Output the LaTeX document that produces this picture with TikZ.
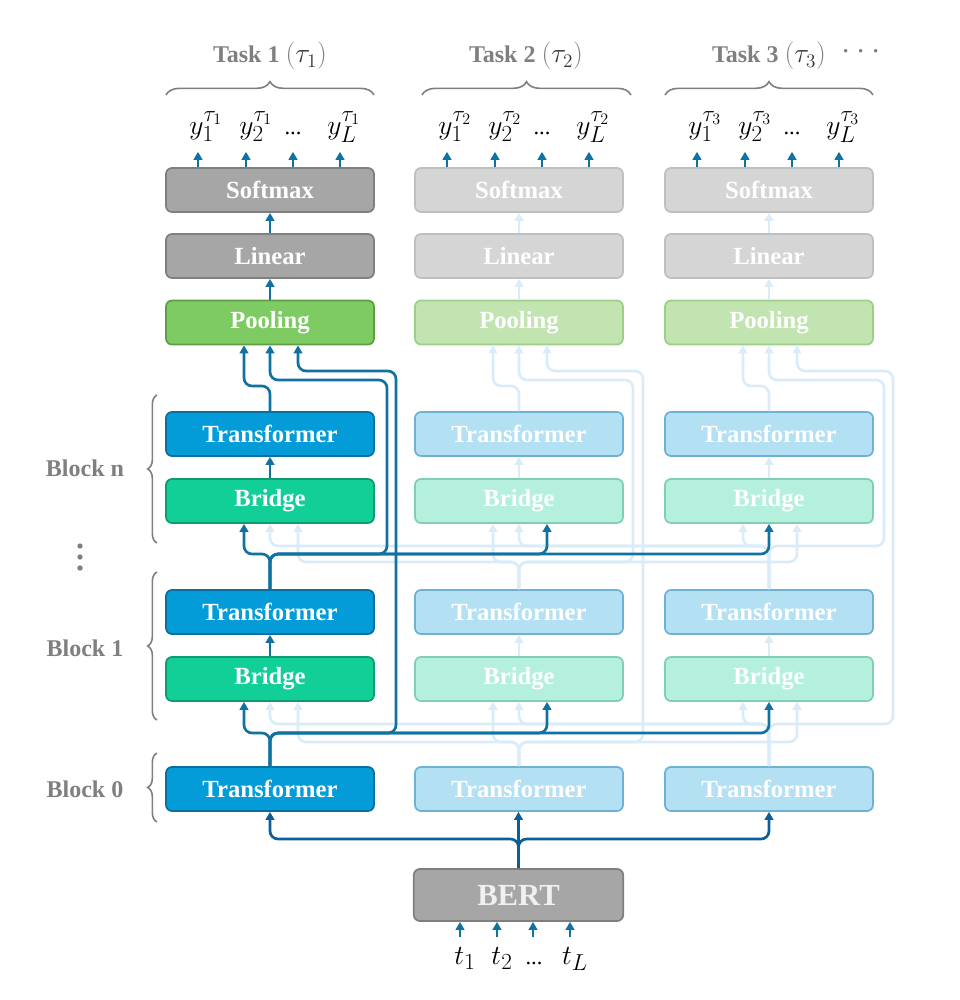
\documentclass[tikz,border=0pt]{standalone}
\usepackage{fontspec}
\setmainfont{Liberation Serif}
\DeclareMathSizes{22}{22}{16}{12}
\DeclareMathSizes{20}{20}{15}{11}
\usetikzlibrary{arrows.meta,calc,decorations.pathreplacing}
\definecolor{gboxf}{HTML}{A6A6A6}\definecolor{gboxd}{HTML}{7F7F7F}
\definecolor{gfaf}{HTML}{D5D5D5}\definecolor{gfad}{HTML}{BFBFBF}
\definecolor{plf}{HTML}{7ECB63}\definecolor{pld}{HTML}{5E9E45}
\definecolor{plff}{HTML}{C1E4B1}\definecolor{plfd}{HTML}{9CCF87}
\definecolor{trf}{HTML}{039CD8}\definecolor{trd}{HTML}{0B6F9B}
\definecolor{trff}{HTML}{B3E0F3}\definecolor{trfd}{HTML}{6DB2D5}
\definecolor{brf}{HTML}{12CF98}\definecolor{brd}{HTML}{0F9A71}
\definecolor{brff}{HTML}{B5F0DF}\definecolor{brfd}{HTML}{80CFB4}
\definecolor{lnd}{HTML}{0F72A1}\definecolor{lnn}{HTML}{0C5E98}\definecolor{lnf}{HTML}{D9ECF8}
\definecolor{txg}{HTML}{7F7F7F}
\newcommand\lanepath[4]{\draw[#1] (#2.north) -- (#2.north |- #3) -- (#4 |- #3) -- (#4);}
\newcommand\poolpath[6]{\draw[#1] (#2.north) -- (#2.north |- #3) -- (#4 |- #3) -- (#4 |- #5) -- (#6 |- #5) -- (#6);}
\begin{document}
\begin{tikzpicture}[x=0.75pt,y=-0.75pt,
 blk/.style={rounded corners=4.5pt, line width=1.3pt, minimum width=156pt, minimum height=33pt, inner sep=0pt, text=white, font=\fontsize{18.5}{20}\selectfont\bfseries},
 gryd/.style={blk, fill=gboxf, draw=gboxd},
 gryf/.style={blk, fill=gfaf, draw=gfad},
 plnd/.style={blk, fill=plf, draw=pld},
 plnf/.style={blk, fill=plff, draw=plfd},
 trnd/.style={blk, fill=trf, draw=trd},
 trnf/.style={blk, fill=trff, draw=trfd},
 brgd/.style={blk, fill=brf, draw=brd},
 brgf/.style={blk, fill=brff, draw=brfd},
 ln/.style={line width=2pt, rounded corners=6pt, -{Triangle[width=6.5pt,length=6pt]}},
 dk/.style={ln, draw=lnd},
 nv/.style={ln, draw=lnn},
 ft/.style={ln, draw=lnf},
 lbl/.style={text=txg, font=\fontsize{18}{20}\selectfont\bfseries},
 mth/.style={font=\fontsize{22}{24}\selectfont, anchor=base, inner sep=0.5pt},
 brc/.style={decorate, decoration={brace, amplitude=#1}, draw=txg, line width=1.2pt},
]
\useasboundingbox (0,0) rectangle (960,1000);

% ---------- nodes ----------
\node[gryd] (sma) at (270,190) {Softmax};
\node[gryd] (lia) at (270,256) {Linear};
\node[plnd] (pla) at (270,322.5) {Pooling};
\node[trnd] (tna) at (270,434) {Transformer};
\node[brgd] (bna) at (270,501) {Bridge};
\node[trnd] (t1a) at (270,612) {Transformer};
\node[brgd] (b1a) at (270,679) {Bridge};
\node[trnd] (t0a) at (270,789) {Transformer};

\node[gryf] (smb) at (519,190) {Softmax};
\node[gryf] (lib) at (519,256) {Linear};
\node[plnf] (plb) at (519,322.5) {Pooling};
\node[trnf] (tnb) at (519,434) {Transformer};
\node[brgf] (bnb) at (519,501) {Bridge};
\node[trnf] (t1b) at (519,612) {Transformer};
\node[brgf] (b1b) at (519,679) {Bridge};
\node[trnf] (t0b) at (519,789) {Transformer};

\node[gryf] (smc) at (769,190) {Softmax};
\node[gryf] (lic) at (769,256) {Linear};
\node[plnf] (plc) at (769,322.5) {Pooling};
\node[trnf] (tnc) at (769,434) {Transformer};
\node[brgf] (bnc) at (769,501) {Bridge};
\node[trnf] (t1c) at (769,612) {Transformer};
\node[brgf] (b1c) at (769,679) {Bridge};
\node[trnf] (t0c) at (769,789) {Transformer};

\node[gryd, minimum width=157pt, minimum height=39pt, text=white!94!black, font=\fontsize{23}{26}\selectfont\bfseries] (bert) at (518.5,895) {BERT};

% ---------- coordinates ----------
\foreach \n in {bna,bnb,bnc,b1a,b1b,b1c,pla,plb,plc}{
  \coordinate (\n-L) at ([xshift=-19.5pt]\n.south);
  \coordinate (\n-M) at (\n.south);
  \coordinate (\n-R) at ([xshift=21pt]\n.south);
}
\coordinate (lA1) at (0,724); \coordinate (lB1) at (0,733); \coordinate (lC1) at (0,742);
\coordinate (lAn) at (0,546); \coordinate (lBn) at (0,554); \coordinate (lCn) at (0,562);
\coordinate (pL) at (0,386); \coordinate (pM) at (0,380); \coordinate (pR) at (0,371);
\coordinate (bl) at (0,839);
\coordinate (vMa) at (387,0); \coordinate (vRa) at (396,0);
\coordinate (vMb) at (633,0); \coordinate (vRb) at (643,0);
\coordinate (vMc) at (884,0); \coordinate (vRc) at (893,0);

% ---------- faint connectors ----------
% block 1, task 2
\lanepath{ft}{t0b}{lC1}{b1b-L}
\lanepath{ft}{t0b}{lC1}{b1a-R}
\lanepath{ft}{t0b}{lC1}{b1c-R}
\poolpath{ft}{t0b}{lC1}{vRb}{pR}{plb-R}
% block 1, task 3
\lanepath{ft}{t0c}{lA1}{b1c-L}
\lanepath{ft}{t0c}{lA1}{b1a-M}
\lanepath{ft}{t0c}{lA1}{b1b-M}
\poolpath{ft}{t0c}{lA1}{vRc}{pR}{plc-R}
% block n, task 2
\lanepath{ft}{t1b}{lCn}{bnb-L}
\lanepath{ft}{t1b}{lCn}{bna-R}
\lanepath{ft}{t1b}{lCn}{bnc-R}
\poolpath{ft}{t1b}{lCn}{vMb}{pM}{plb-M}
% block n, task 3
\lanepath{ft}{t1c}{lAn}{bnc-L}
\lanepath{ft}{t1c}{lAn}{bna-M}
\lanepath{ft}{t1c}{lAn}{bnb-M}
\poolpath{ft}{t1c}{lAn}{vMc}{pM}{plc-M}
% pooling left inputs
\lanepath{ft}{tnb}{pL}{plb-L}
\lanepath{ft}{tnc}{pL}{plc-L}
% straight
\foreach \s in {b,c}{
  \draw[ft] (b1\s.north) -- (t1\s.south);
  \draw[ft] (bn\s.north) -- (tn\s.south);
  \draw[ft] (pl\s.north) -- (li\s.south);
  \draw[ft] (li\s.north) -- (sm\s.south);
}

% ---------- dark connectors ----------
\lanepath{dk}{t0a}{lB1}{b1a-L}
\poolpath{dk}{t0a}{lB1}{vRa}{pR}{pla-R}
\lanepath{dk}{t0a}{lB1}{b1b-R}
\lanepath{dk}{t0a}{lB1}{b1c-M}
\lanepath{dk}{t1a}{lBn}{bna-L}
\poolpath{dk}{t1a}{lBn}{vMa}{pM}{pla-M}
\lanepath{dk}{t1a}{lBn}{bnb-R}
\lanepath{dk}{t1a}{lBn}{bnc-M}
\lanepath{dk}{tna}{pL}{pla-L}
\draw[dk] (b1a.north) -- (t1a.south);
\draw[dk] (bna.north) -- (tna.south);
\draw[dk] (pla.north) -- (lia.south);
\draw[dk] (lia.north) -- (sma.south);

% BERT
\draw[nv] (bert.north) -- (bert.north |- bl) -- (t0a.south |- bl) -- (t0a.south);
\draw[nv] (bert.north) -- (bert.north |- bl) -- (t0c.south |- bl) -- (t0c.south);
\draw[nv] (bert.north) -- (bert.north |- t0b.south);

% inputs
\foreach \x/\i in {460/1,497/2,533/3,570/4}{
  \coordinate (in\i) at (\x,937);
  \draw[dk] (in\i) -- (in\i |- bert.south);
}
\node[mth] (tk1) at (465,964) {$t_1$};
\node[mth] (tk2) at (502,964) {$t_2$};
\node[mth, font=\fontsize{17}{20}\selectfont] (tk3) at (534,964) {...};
\node[mth] (tk4) at (575,964) {$t_L$};

% outputs
\foreach \s/\cx/\k in {a/270/1,b/519/2,c/769/3}{
  \foreach \dx/\i in {-72/1,-24/2,23/3,70/4}{
    \coordinate (o\s\i) at ([xshift=\dx*0.75pt, yshift=11.5pt]sm\s.north);
    \draw[dk] (o\s\i |- sm\s.north) -- (o\s\i);
  }
  \node[mth] (ya\s) at (\cx-64,134) {$y_1^{\tau_\k}$};
  \node[mth] (yb\s) at (\cx-14,134) {$y_2^{\tau_\k}$};
  \node[mth, font=\fontsize{17}{20}\selectfont] (yc\s) at (\cx+23,134) {...};
  \node[mth] (yd\s) at (\cx+74,134) {$y_L^{\tau_\k}$};
}

% task labels and braces
\node[lbl] (task1) at (270,56) {Task 1 \mdseries\fontsize{20}{22}\selectfont$({\color{black!80}\tau_1})$};
\node[lbl] (task2) at (526,56) {Task 2 \mdseries\fontsize{20}{22}\selectfont$({\color{black!80}\tau_2})$};
\node[lbl] (task3) at (769,56) {Task 3 \mdseries\fontsize{20}{22}\selectfont$({\color{black!80}\tau_3})$};
\node[text=txg, font=\fontsize{28}{30}\selectfont] (tdots) at (861,52) {$\cdots$};
\draw[brc=10pt] (166,95) -- (374,95);
\draw[brc=10pt] (422,95) -- (631,95);
\draw[brc=10pt] (665,95) -- (873,95);

% block labels and braces
\node[lbl] (blkn) at (85,468) {Block n};
\node[lbl] (blk1) at (85,648) {Block 1};
\node[lbl] (blk0) at (85,789) {Block 0};
\foreach \yy in {546,557,568}{
  \fill[txg] (80,\yy) circle[radius=2pt];
}
\draw[brc=7pt] (157,543) -- (157,395);
\draw[brc=7pt] (157,720) -- (157,572);
\draw[brc=7pt] (157,822) -- (157,753);
\end{tikzpicture}
\end{document}
